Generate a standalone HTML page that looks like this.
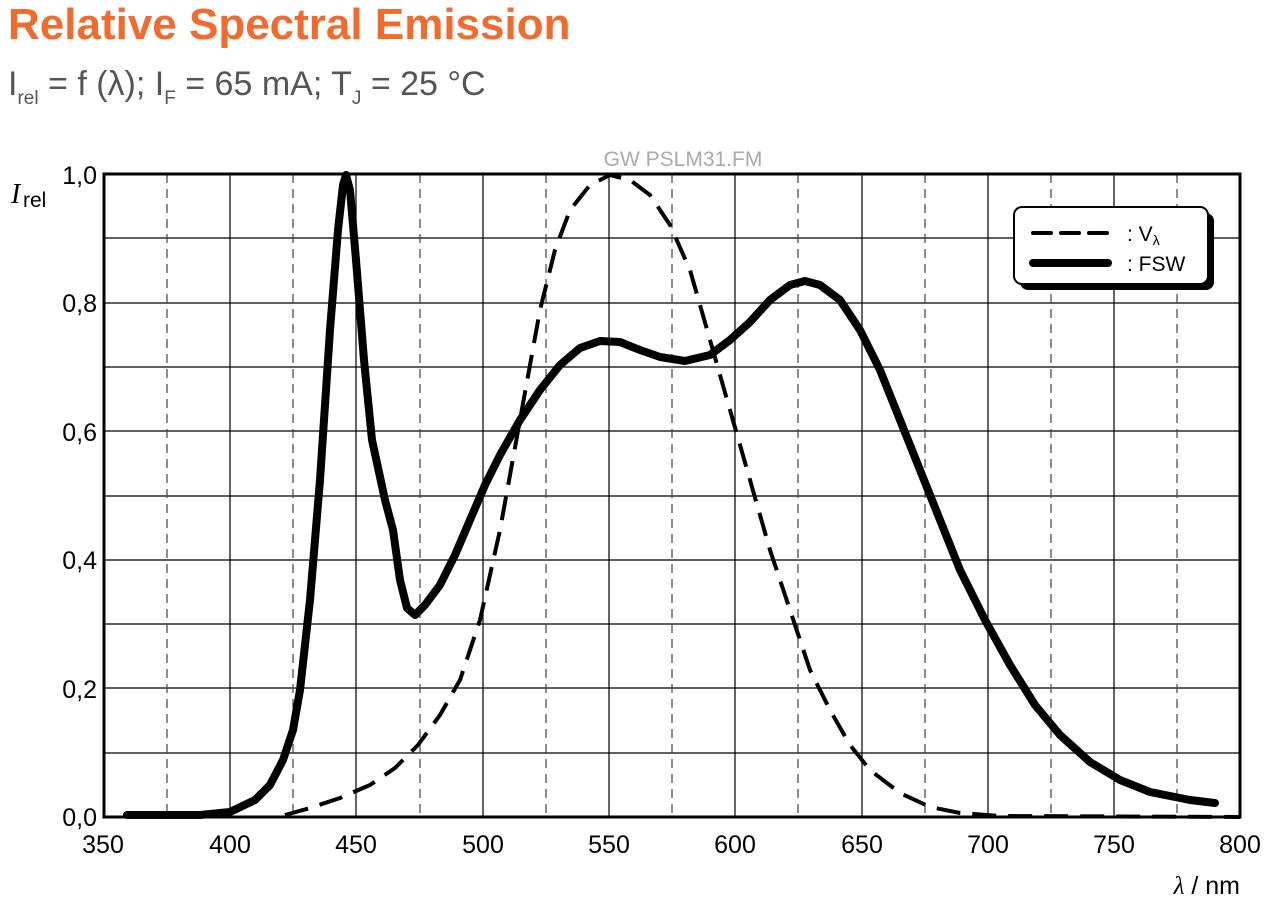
<!DOCTYPE html><html><head><style>body{margin:0;background:#fff}svg{display:block}</style></head><body>
<svg width="1273" height="905" xmlns="http://www.w3.org/2000/svg" font-family="Liberation Sans, sans-serif">
<text x="8" y="39" font-size="44" font-weight="bold" fill="#f26a2c">Relative Spectral Emission</text>
<text x="8" y="95" font-size="34" fill="#555">I<tspan font-size="19" dy="9">rel</tspan><tspan dy="-9"> = f (λ); I</tspan><tspan font-size="19" dy="9">F</tspan><tspan dy="-9"> = 65 mA; T</tspan><tspan font-size="19" dy="9">J</tspan><tspan dy="-9"> = 25 °C</tspan></text>
<text x="683" y="166" font-size="21" fill="#aaa" text-anchor="middle">GW PSLM31.FM</text>
<g stroke="#000" stroke-width="1.2">
<line x1="104" x2="1240" y1="238" y2="238"/><line x1="104" x2="1240" y1="303" y2="303"/><line x1="104" x2="1240" y1="367" y2="367"/><line x1="104" x2="1240" y1="431" y2="431"/><line x1="104" x2="1240" y1="496" y2="496"/><line x1="104" x2="1240" y1="560" y2="560"/><line x1="104" x2="1240" y1="624" y2="624"/><line x1="104" x2="1240" y1="688" y2="688"/><line x1="104" x2="1240" y1="753" y2="753"/>
<line y1="174" y2="817" x1="230" x2="230"/><line y1="174" y2="817" x1="356" x2="356"/><line y1="174" y2="817" x1="483" x2="483"/><line y1="174" y2="817" x1="609" x2="609"/><line y1="174" y2="817" x1="735" x2="735"/><line y1="174" y2="817" x1="862" x2="862"/><line y1="174" y2="817" x1="988" x2="988"/><line y1="174" y2="817" x1="1114" x2="1114"/>
</g>
<g stroke="#444" stroke-width="1.2" stroke-dasharray="9,6">
<line y1="174" y2="817" x1="167" x2="167"/><line y1="174" y2="817" x1="293" x2="293"/><line y1="174" y2="817" x1="420" x2="420"/><line y1="174" y2="817" x1="546" x2="546"/><line y1="174" y2="817" x1="672" x2="672"/><line y1="174" y2="817" x1="798" x2="798"/><line y1="174" y2="817" x1="925" x2="925"/><line y1="174" y2="817" x1="1051" x2="1051"/><line y1="174" y2="817" x1="1177" x2="1177"/>
</g>
<rect x="104" y="174" width="1136" height="643" fill="none" stroke="#000" stroke-width="3"/>
<g font-size="25" fill="#000">
<g text-anchor="end"><text x="97" y="184">1,0</text><text x="97" y="312">0,8</text><text x="97" y="441">0,6</text><text x="97" y="569">0,4</text><text x="97" y="698">0,2</text><text x="97" y="826">0,0</text></g>
<g text-anchor="middle"><text x="103" y="853">350</text><text x="230" y="853">400</text><text x="356" y="853">450</text><text x="483" y="853">500</text><text x="609" y="853">550</text><text x="735" y="853">600</text><text x="862" y="853">650</text><text x="988" y="853">700</text><text x="1114" y="853">750</text><text x="1240" y="853">800</text></g>
<text x="1240" y="894" text-anchor="end"><tspan font-family="Liberation Serif, serif" font-style="italic">λ</tspan> / nm</text>
<text x="11" y="203" font-family="Liberation Serif, serif" font-style="italic" font-size="28">I</text><text x="23" y="207" font-size="21">rel</text>
</g>
<polyline fill="none" stroke="#000" stroke-width="4" stroke-dasharray="24,12" points="285,815 310,808 340,798 370,785 395,768 418,745 440,715 460,680 480,620 500,530 520,420 540,310 555,250 570,210 590,185 610,175 630,180 650,195 670,225 690,270 710,340 730,410 750,480 770,550 790,610 810,670 830,710 850,745 870,770 900,793 930,807 960,813 1000,816 1240,817"/>
<polyline fill="none" stroke="#000" stroke-width="8" stroke-linejoin="round" stroke-linecap="round" points="127,815 200,815 230,812 255,800 270,785 283,760 293,730 300,690 310,600 320,480 330,330 338,230 343,185 346,175 350,190 356,260 364,360 372,440 385,500 393,530 400,580 407,608 415,615 425,605 440,585 455,555 470,520 485,485 500,455 520,420 540,390 560,365 580,348 600,341 620,342 640,350 660,357 685,361 710,355 730,340 750,322 770,300 790,285 805,281 820,285 840,300 860,330 880,370 900,420 920,470 940,520 960,570 985,620 1010,665 1035,705 1060,735 1090,762 1120,780 1150,792 1190,800 1215,803"/>
<rect x="1020" y="213" width="194" height="77" rx="8" fill="#000"/>
<rect x="1014" y="207" width="194" height="77" rx="8" fill="#fff" stroke="#000" stroke-width="2"/>
<line x1="1033" x2="1108" y1="233" y2="233" stroke="#000" stroke-width="4" stroke-dasharray="18,10" stroke-linecap="round"/>
<line x1="1033" x2="1108" y1="263" y2="263" stroke="#000" stroke-width="8" stroke-linecap="round"/>
<text x="1127" y="241" font-size="21">: V<tspan font-size="14" dy="4">λ</tspan></text>
<text x="1127" y="271" font-size="21">: FSW</text>
</svg></body></html>
